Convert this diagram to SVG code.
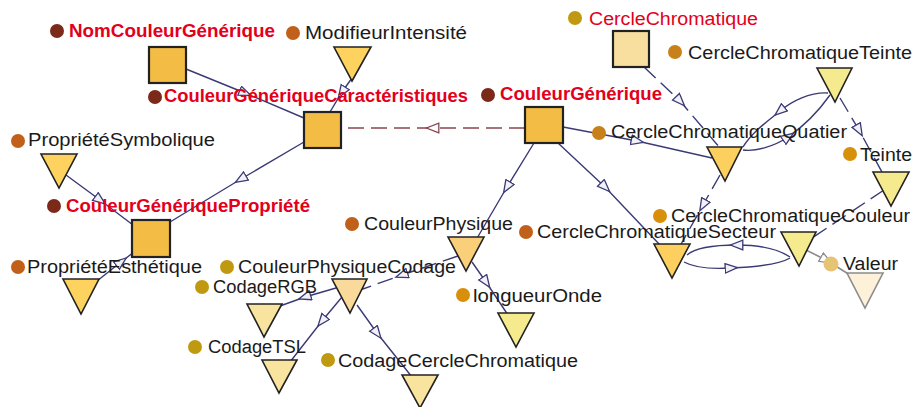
<svg xmlns="http://www.w3.org/2000/svg" width="913" height="407" viewBox="0 0 913 407">
<style>
.e{fill:none;stroke:#3b3a74;stroke-width:1.4}
.d{stroke-dasharray:16 7}
.m{fill:none;stroke:#8a4650;stroke-width:1.4;stroke-dasharray:16 7}
.g{fill:none;stroke:#8c8c8c;stroke-width:1.6}
.sq{stroke:#222;stroke-width:2.2}
.tr{stroke:#222;stroke-width:1.6}
text{font-family:"Liberation Sans",Arial,sans-serif;font-size:18px;fill:#1a1a1a}
.r{fill:#e2001a}
.b{font-weight:bold}
</style>
<defs>
<marker id="a" markerUnits="userSpaceOnUse" markerWidth="16" markerHeight="14" refX="6.5" refY="5.5" orient="auto"><path d="M0.7,0.7 L13,5.5 L0.7,10.3 z" fill="#f1f1f8" stroke="#3b3a74" stroke-width="1.3"/></marker>
<marker id="am" markerUnits="userSpaceOnUse" markerWidth="16" markerHeight="14" refX="6.5" refY="5.5" orient="auto"><path d="M0.7,0.7 L13,5.5 L0.7,10.3 z" fill="#ffffff" stroke="#8a4650" stroke-width="1.3"/></marker>
<marker id="ag" markerUnits="userSpaceOnUse" markerWidth="16" markerHeight="14" refX="6.5" refY="5.5" orient="auto"><path d="M0.7,0.7 L13,5.5 L0.7,10.3 z" fill="#ffffff" stroke="#8c8c8c" stroke-width="1.3"/></marker>
</defs>
<g id="connectors">
<polyline class="e" marker-mid="url(#a)" points="186,69 245,93 304,118"/>
<polyline class="e" marker-mid="url(#a)" points="352,78 342,92 330,112"/>
<polyline class="m" marker-mid="url(#am)" points="525,128 433,128 341,128"/>
<polyline class="e" marker-mid="url(#a)" points="304,142 241,179 170,222"/>
<polyline class="e" marker-mid="url(#a)" points="66,175 100,200 133,225"/>
<polyline class="e" marker-mid="url(#a)" points="97,281 121,262 134,252"/>
<polyline class="e" marker-mid="url(#a)" points="534,143 507,187 476,240"/>
<polyline class="e" marker-mid="url(#a)" points="558,143 605,187 660,245"/>
<polyline class="e" marker-mid="url(#a)" points="563,127 637,141 712,158"/>
<polyline class="e d" marker-mid="url(#a)" points="644,67 680,101 720,148"/>
<path class="e" marker-mid="url(#a)" d="M828,93 C810,92 792,101 780,111 C768,121 752,132 743,147"/>
<path class="e" marker-mid="url(#a)" d="M743,150 C755,152 775,146 788,137 C801,128 818,112 830,95"/>
<polyline class="e d" marker-mid="url(#a)" points="840,98 859,130 883,174"/>
<polyline class="e d" marker-mid="url(#a)" points="720,175 703,205 680,246"/>
<line class="e d" x1="884" y1="190" x2="812" y2="238"/>
<path class="e" marker-mid="url(#a)" d="M790,257 C775,247 755,245 737,245 C715,245 695,248 687,255"/>
<path class="e" marker-mid="url(#a)" d="M684,262 C695,268 715,269 731,268 C755,267 780,264 790,258"/>
<polyline class="g" marker-mid="url(#ag)" points="806,250 826,260 850,275"/>
<polyline class="e d" marker-mid="url(#a)" points="458,256 402,275 360,290"/>
<polyline class="e" marker-mid="url(#a)" points="472,262 486,282 508,315"/>
<polyline class="e" marker-mid="url(#a)" points="336,288 305,297 280,306"/>
<polyline class="e" marker-mid="url(#a)" points="342,297 322,321 290,362"/>
<polyline class="e" marker-mid="url(#a)" points="357,305 377,333 412,377"/>
</g>
<g id="NomCouleurGenerique">
<rect class="sq" x="149" y="47" width="37" height="36" fill="#f3bc44"/>
<circle cx="57" cy="31" r="7" fill="#7b2a1a"/>
<text class="r b" x="69" y="37" textLength="206" lengthAdjust="spacingAndGlyphs">NomCouleurGénérique</text>
</g>
<g id="CouleurGeneriqueCaracteristiques">
<rect class="sq" x="304" y="112" width="37" height="36" fill="#f3bc44"/>
<circle cx="155" cy="97" r="7" fill="#7b2a1a"/>
<text class="r b" x="164" y="102" textLength="304" lengthAdjust="spacingAndGlyphs">CouleurGénériqueCaractéristiques</text>
</g>
<g id="CouleurGenerique">
<rect class="sq" x="525" y="107" width="38" height="36" fill="#f3bc44"/>
<circle cx="488" cy="95" r="7" fill="#7b2a1a"/>
<text class="r b" x="500" y="100" textLength="162" lengthAdjust="spacingAndGlyphs">CouleurGénérique</text>
</g>
<g id="CercleChromatique">
<rect class="sq" x="613" y="31" width="36" height="36" fill="#f9df9f"/>
<circle cx="575" cy="18" r="7" fill="#bf9a10"/>
<text class="r" x="589" y="25" textLength="169" lengthAdjust="spacingAndGlyphs">CercleChromatique</text>
</g>
<g id="CouleurGeneriquePropriete">
<rect class="sq" x="132" y="220" width="38" height="37" fill="#f3bc44"/>
<circle cx="54" cy="206" r="7" fill="#7b2a1a"/>
<text class="r b" x="66" y="212" textLength="244" lengthAdjust="spacingAndGlyphs">CouleurGénériquePropriété</text>
</g>
<g id="ModifieurIntensite">
<polygon class="tr" points="334,47 371,47 352,81" fill="#fdd25f"/>
<circle cx="293" cy="33" r="7" fill="#c0601a"/>
<text x="305" y="39" textLength="162" lengthAdjust="spacingAndGlyphs">ModifieurIntensité</text>
</g>
<g id="ProprieteSymbolique">
<polygon class="tr" points="41,154 77,154 59,188" fill="#fdd25f"/>
<circle cx="18" cy="141" r="7" fill="#c0601a"/>
<text x="28" y="146" textLength="187" lengthAdjust="spacingAndGlyphs">PropriétéSymbolique</text>
</g>
<g id="ProprieteEsthetique">
<polygon class="tr" points="63,279 99,279 81,314" fill="#fdd25f"/>
<circle cx="18" cy="267" r="7" fill="#c0601a"/>
<text x="27" y="273" textLength="175" lengthAdjust="spacingAndGlyphs">PropriétéEsthétique</text>
</g>
<g id="CouleurPhysique">
<polygon class="tr" points="448,237 484,237 466,271" fill="#f9cf79"/>
<circle cx="352" cy="224" r="7" fill="#c0601a"/>
<text x="364" y="230" textLength="149" lengthAdjust="spacingAndGlyphs">CouleurPhysique</text>
</g>
<g id="CouleurPhysiqueCodage">
<polygon class="tr" points="332,279 367,279 350,313" fill="#f9da9a"/>
<circle cx="227" cy="267" r="7" fill="#bf9a10"/>
<text x="238" y="273" textLength="218" lengthAdjust="spacingAndGlyphs">CouleurPhysiqueCodage</text>
</g>
<g id="CodageRGB">
<polygon class="tr" points="247,304 282,304 264,337" fill="#f8e39f"/>
<circle cx="202" cy="287" r="7" fill="#bf9a10"/>
<text x="213" y="293" textLength="104" lengthAdjust="spacingAndGlyphs">CodageRGB</text>
</g>
<g id="CodageTSL">
<polygon class="tr" points="262,360 297,360 279,393" fill="#f8e39f"/>
<circle cx="195" cy="347" r="7" fill="#bf9a10"/>
<text x="208" y="353" textLength="98" lengthAdjust="spacingAndGlyphs">CodageTSL</text>
</g>
<g id="CodageCercleChromatique">
<polygon class="tr" points="402,375 438,375 420,408" fill="#f8e39f"/>
<circle cx="328" cy="360" r="7" fill="#bf9a10"/>
<text x="338" y="367" textLength="240" lengthAdjust="spacingAndGlyphs">CodageCercleChromatique</text>
</g>
<g id="longueurOnde">
<polygon class="tr" points="498,313 534,313 516,347" fill="#f6ea8e"/>
<circle cx="463" cy="295" r="7" fill="#d88f0a"/>
<text x="473" y="302" textLength="129" lengthAdjust="spacingAndGlyphs">longueurOnde</text>
</g>
<g id="CercleChromatiqueSecteur">
<polygon class="tr" points="654,244 690,244 672,278" fill="#fccf5e"/>
<circle cx="526" cy="232" r="7" fill="#c0601a"/>
<text x="537" y="238" textLength="239" lengthAdjust="spacingAndGlyphs">CercleChromatiqueSecteur</text>
</g>
<g id="CercleChromatiqueQuatier">
<polygon class="tr" points="707,147 742,147 725,181" fill="#fccf5e"/>
<circle cx="599" cy="133" r="7" fill="#c8801a"/>
<text x="611" y="138" textLength="236" lengthAdjust="spacingAndGlyphs">CercleChromatiqueQuatier</text>
</g>
<g id="CercleChromatiqueTeinte">
<polygon class="tr" points="817,68 852,68 835,102" fill="#f6ea8e"/>
<circle cx="675" cy="52" r="7" fill="#c8801a"/>
<text x="688" y="59" textLength="224" lengthAdjust="spacingAndGlyphs">CercleChromatiqueTeinte</text>
</g>
<g id="Teinte">
<polygon class="tr" points="873,172 909,172 891,206" fill="#f6ea8e"/>
<circle cx="850" cy="154" r="7" fill="#d88f0a"/>
<text x="860" y="161" textLength="52" lengthAdjust="spacingAndGlyphs">Teinte</text>
</g>
<g id="CercleChromatiqueCouleur">
<polygon class="tr" points="781,232 816,232 799,266" fill="#f6ea8e"/>
<circle cx="660" cy="216" r="7" fill="#d88f0a"/>
<text x="671" y="222" textLength="239" lengthAdjust="spacingAndGlyphs">CercleChromatiqueCouleur</text>
</g>
<g id="Valeur">
<polygon points="847,273 883,273 865,308" fill="#fdf1d9" stroke="#8c8c8c" stroke-width="1.6"/>
<circle cx="831" cy="264" r="7.5" fill="#e6c473"/>
<text x="843" y="270" textLength="55" lengthAdjust="spacingAndGlyphs">Valeur</text>
</g>
</svg>
